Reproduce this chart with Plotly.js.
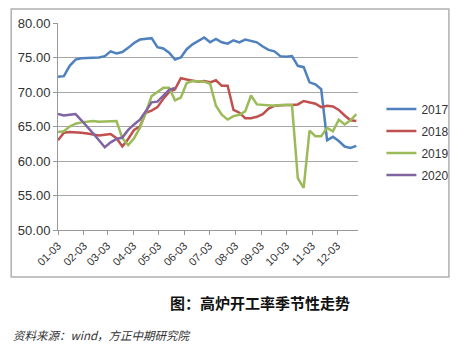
<!DOCTYPE html>
<html>
<head>
<meta charset="utf-8">
<script src="https://cdn.plot.ly/plotly-3.0.1.min.js"></script>
<style>
html,body{margin:0;padding:0;background:#fff;}
#chart{width:466px;height:357px;}
</style>
</head>
<body>
<div id="chart"></div>
<script>
// Weekly observations, starting on 01-03 (year used only to place dates on the axis)
var startDate = '2019-01-03';
var seriesNames = ['2017', '2018', '2019', '2020'];
var tickLabels = ['01-03','02-03','03-03','04-03','05-03','06-03','07-03','08-03','09-03','10-03','11-03','12-03'];

var v2017 = [72.2,72.3,73.8,74.7,74.9,74.9,74.9,75.0,75.2,75.9,75.6,75.8,76.4,77.1,77.6,77.7,77.8,76.5,76.3,75.7,
             74.7,75.0,76.2,76.9,77.4,77.9,77.2,77.7,77.2,77.0,77.5,77.2,77.6,77.4,77.2,76.6,76.1,75.9,75.2,75.1,
             75.2,73.8,73.6,71.4,71.1,70.4,63.0,63.5,62.9,62.1,61.9,62.2];
var v2018 = [63.0,64.1,64.2,64.2,64.1,64.0,63.8,63.7,63.8,63.9,63.3,62.1,63.2,64.5,65.0,67.0,67.3,67.8,69.0,70.0,
             70.4,72.0,71.8,71.6,71.5,71.6,71.4,71.7,70.9,70.9,67.4,67.0,66.2,66.2,66.4,66.8,67.6,68.0,68.1,68.1,
             68.1,68.2,68.7,68.5,68.3,67.8,68.0,67.9,67.4,66.6,65.9,65.8];
var v2019 = [64.2,64.3,65.0,65.4,65.6,65.7,65.8,65.7,65.7,65.8,65.8,63.3,62.3,63.3,64.8,67.0,69.4,70.0,70.6,70.6,
             68.8,69.2,71.3,71.6,71.6,71.5,71.2,68.0,66.7,66.0,66.5,66.7,67.2,69.5,68.2,68.1,68.1,68.0,68.1,68.1,
             68.1,57.5,56.1,64.4,63.6,63.6,64.8,64.3,66.0,65.3,65.9,66.8];
var v2020 = [66.8,66.6,66.7,66.8,65.9,65.0,64.0,63.0,62.0,62.7,63.2,63.4,64.5,65.3,66.0,67.2,68.5,68.6,69.5,70.3,
             70.6];

var colors = ['#4F81BD', '#C0504D', '#9BBB59', '#8064A2'];

function weekDates(n) {
  var out = [];
  var t0 = Date.UTC(2019, 0, 3);
  for (var i = 0; i < n; i++) {
    var d = new Date(t0 + i * 7 * 86400000);
    out.push(d.toISOString().slice(0, 10));
  }
  return out;
}

var allValues = [v2017, v2018, v2019, v2020];
var traces = allValues.map(function (vals, k) {
  return {
    type: 'scatter',
    mode: 'lines',
    name: seriesNames[k],
    legendgroup: 'g' + k,
    x: weekDates(vals.length),
    y: vals,
    line: {color: colors[k], width: 2.5},
    hoverinfo: 'skip'
  };
});

var tickVals = tickLabels.map(function (t) { return '2019-' + t; });

var layout = {
  width: 466,
  height: 357,
  margin: {l: 58, r: 101, t: 23, b: 127},
  paper_bgcolor: '#ffffff',
  plot_bgcolor: '#ffffff',
  font: {family: 'Liberation Sans, Arial, sans-serif', size: 12, color: '#333333'},
  showlegend: true,
  legend: {
    x: 1.078, xanchor: 'left', y: 0.655, yanchor: 'top',
    traceorder: 'grouped', tracegroupgap: 3,
    font: {size: 12, color: '#333333'},
    bgcolor: 'rgba(0,0,0,0)'
  },
  xaxis: {
    type: 'date',
    range: ['2019-01-03', '2019-12-28'],
    tickmode: 'array',
    tickvals: tickVals,
    ticktext: tickLabels,
    tickangle: -45,
    tickfont: {size: 11, color: '#333333'},
    ticks: 'outside', ticklen: 4, tickcolor: '#999999',
    showgrid: false,
    showline: true, linecolor: '#999999', linewidth: 1,
    zeroline: false
  },
  yaxis: {
    range: [50, 80],
    dtick: 5,
    tick0: 50,
    tickformat: '.2f',
    tickfont: {size: 13, color: '#333333'},
    ticks: 'outside', ticklen: 4, tickcolor: '#999999',
    showgrid: true, gridcolor: '#a6a6a6', gridwidth: 1,
    showline: true, linecolor: '#999999', linewidth: 1,
    zeroline: false
  },
  shapes: [{
    type: 'rect', xref: 'paper', yref: 'paper',
    x0: -0.156, x1: 1.303, y0: -0.227, y1: 1.068,
    line: {color: '#b0b0b0', width: 1.5},
    fillcolor: 'rgba(0,0,0,0)', layer: 'below'
  }],
  annotations: [
    {
      xref: 'paper', yref: 'paper', x: 0.672, y: -0.348,
      xanchor: 'center', yanchor: 'middle', showarrow: false,
      text: '<b>图：高炉开工率季节性走势</b>',
      font: {family: 'Noto Sans CJK SC, sans-serif', size: 15, color: '#111111'}
    },
    {
      xref: 'paper', yref: 'paper', x: -0.156, y: -0.507,
      xanchor: 'left', yanchor: 'middle', showarrow: false,
      text: '<i>资料来源：wind，方正中期研究院</i>',
      font: {family: 'Noto Sans CJK SC, sans-serif', size: 11.5, color: '#333333'}
    }
  ]
};

Plotly.newPlot('chart', traces, layout, {displayModeBar: false, staticPlot: true});
</script>
</body>
</html>
